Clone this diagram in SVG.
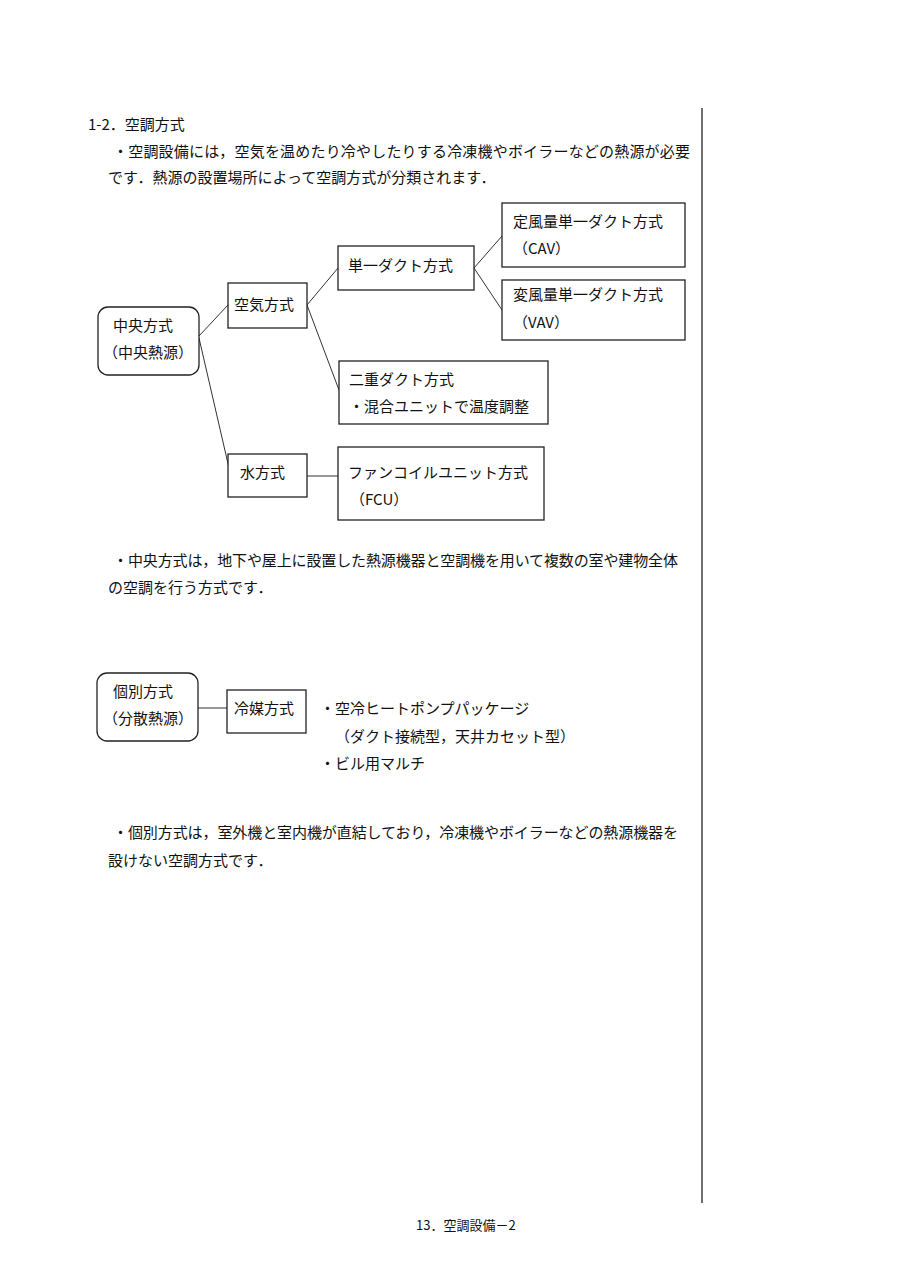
<svg xmlns="http://www.w3.org/2000/svg" width="905" height="1280" viewBox="0 0 905 1280">
<style>
text{font-family:"Noto Sans CJK JP","Noto Sans",sans-serif;font-size:15px;fill:#111;}
.box{fill:#fff;stroke:#222;stroke-width:1.3;}
.conn line{stroke:#333;stroke-width:1;}
.ft{font-size:13px;}
</style>
<rect width="905" height="1280" fill="#fff"/>
<line x1="702" y1="108" x2="702" y2="1203" stroke="#222" stroke-width="1.3"/>
<text x="88" y="130">1-2．空調方式</text>
<text x="113" y="157" textLength="577" lengthAdjust="spacing">・空調設備には，空気を温めたり冷やしたりする冷凍機やボイラーなどの熱源が必要</text>
<text x="108" y="183">です．熱源の設置場所によって空調方式が分類されます．</text>
<g class="conn">
<line x1="199" y1="336" x2="228" y2="305"/>
<line x1="199" y1="338" x2="229" y2="468"/>
<line x1="307" y1="305" x2="338" y2="268"/>
<line x1="307" y1="305" x2="339" y2="390"/>
<line x1="474" y1="268" x2="502" y2="236"/>
<line x1="474" y1="268" x2="502" y2="310"/>
<line x1="307" y1="476" x2="338" y2="476"/>
<line x1="198" y1="708" x2="227" y2="708"/>
</g>
<g id="chuo"><rect class="box" x="98" y="307" width="101" height="68" rx="10"/><text x="113" y="331">中央方式</text><text x="103" y="358">（中央熱源）</text></g>
<g id="kuki"><rect class="box" x="228" y="283" width="79" height="45"/><text x="234" y="310">空気方式</text></g>
<g id="tanitsu"><rect class="box" x="338" y="246" width="136" height="44"/><text x="348" y="271">単一ダクト方式</text></g>
<g id="cav"><rect class="box" x="502" y="203" width="183" height="64"/><text x="513" y="227">定風量単一ダクト方式</text><text x="513" y="254">（CAV）</text></g>
<g id="vav"><rect class="box" x="502" y="280" width="183" height="60"/><text x="513" y="300">変風量単一ダクト方式</text><text x="513" y="328">（VAV）</text></g>
<g id="niju"><rect class="box" x="339" y="361" width="209" height="63"/><text x="349" y="385">二重ダクト方式</text><text x="349" y="412">・混合ユニットで温度調整</text></g>
<g id="mizu"><rect class="box" x="228" y="454" width="79" height="43"/><text x="240" y="478">水方式</text></g>
<g id="fcu"><rect class="box" x="338" y="447" width="206" height="73"/><text x="348" y="478">ファンコイルユニット方式</text><text x="350" y="505">（FCU）</text></g>
<text x="113" y="566" textLength="565" lengthAdjust="spacing">・中央方式は，地下や屋上に設置した熱源機器と空調機を用いて複数の室や建物全体</text>
<text x="108" y="593">の空調を行う方式です．</text>
<g id="kobetsu"><rect class="box" x="97" y="673" width="101" height="68" rx="10"/><text x="113" y="697">個別方式</text><text x="103" y="724">（分散熱源）</text></g>
<g id="reibai"><rect class="box" x="227" y="690" width="79" height="43"/><text x="234" y="714">冷媒方式</text></g>
<text x="320" y="714">・空冷ヒートポンプパッケージ</text>
<text x="335" y="742">（ダクト接続型，天井カセット型）</text>
<text x="320" y="769">・ビル用マルチ</text>
<text x="113" y="838" textLength="565" lengthAdjust="spacing">・個別方式は，室外機と室内機が直結しており，冷凍機やボイラーなどの熱源機器を</text>
<text x="108" y="866">設けない空調方式です．</text>
<text class="ft" x="416" y="1230">13．空調設備－2</text>
</svg>
